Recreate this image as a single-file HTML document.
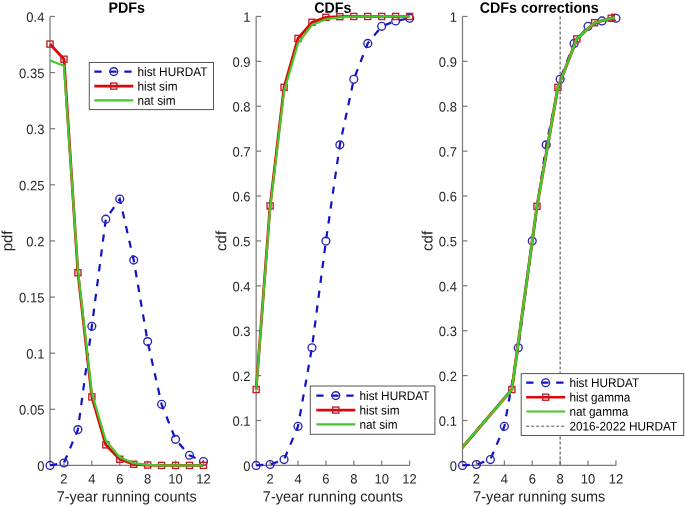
<!DOCTYPE html>
<html><head><meta charset="utf-8"><style>
html,body{margin:0;padding:0;background:#fff;}
body{width:685px;height:506px;overflow:hidden;}
svg{display:block;filter:blur(0.45px);}
text{font-family:"Liberation Sans",sans-serif;}
</style></head><body>
<svg width="685" height="506" viewBox="0 0 685 506">
<rect width="685" height="506" fill="#fff"/>
<defs><clipPath id="c3"><rect x="462.50" y="0" width="153.45" height="468.40"/></clipPath></defs>
<path d="M50.00,16.45 L50.00,465.40 L203.45,465.40" fill="none" stroke="rgb(120,120,120)" stroke-width="1.2"/>
<line x1="50.00" y1="465.40" x2="55.00" y2="465.40" stroke="rgb(120,120,120)" stroke-width="1.2"/>
<text transform="matrix(0.963,0.001,0,1,44.40,470.75)" text-anchor="end" font-size="13.5" fill="rgb(38,38,38)">0</text>
<line x1="50.00" y1="409.28" x2="55.00" y2="409.28" stroke="rgb(120,120,120)" stroke-width="1.2"/>
<text transform="matrix(0.963,0.001,0,1,44.40,414.63)" text-anchor="end" font-size="13.5" fill="rgb(38,38,38)">0.05</text>
<line x1="50.00" y1="353.16" x2="55.00" y2="353.16" stroke="rgb(120,120,120)" stroke-width="1.2"/>
<text transform="matrix(0.963,0.001,0,1,44.40,358.51)" text-anchor="end" font-size="13.5" fill="rgb(38,38,38)">0.1</text>
<line x1="50.00" y1="297.04" x2="55.00" y2="297.04" stroke="rgb(120,120,120)" stroke-width="1.2"/>
<text transform="matrix(0.963,0.001,0,1,44.40,302.39)" text-anchor="end" font-size="13.5" fill="rgb(38,38,38)">0.15</text>
<line x1="50.00" y1="240.92" x2="55.00" y2="240.92" stroke="rgb(120,120,120)" stroke-width="1.2"/>
<text transform="matrix(0.963,0.001,0,1,44.40,246.27)" text-anchor="end" font-size="13.5" fill="rgb(38,38,38)">0.2</text>
<line x1="50.00" y1="184.81" x2="55.00" y2="184.81" stroke="rgb(120,120,120)" stroke-width="1.2"/>
<text transform="matrix(0.963,0.001,0,1,44.40,190.16)" text-anchor="end" font-size="13.5" fill="rgb(38,38,38)">0.25</text>
<line x1="50.00" y1="128.69" x2="55.00" y2="128.69" stroke="rgb(120,120,120)" stroke-width="1.2"/>
<text transform="matrix(0.963,0.001,0,1,44.40,134.04)" text-anchor="end" font-size="13.5" fill="rgb(38,38,38)">0.3</text>
<line x1="50.00" y1="72.57" x2="55.00" y2="72.57" stroke="rgb(120,120,120)" stroke-width="1.2"/>
<text transform="matrix(0.963,0.001,0,1,44.40,77.92)" text-anchor="end" font-size="13.5" fill="rgb(38,38,38)">0.35</text>
<line x1="50.00" y1="16.45" x2="55.00" y2="16.45" stroke="rgb(120,120,120)" stroke-width="1.2"/>
<text transform="matrix(0.963,0.001,0,1,44.40,21.80)" text-anchor="end" font-size="13.5" fill="rgb(38,38,38)">0.4</text>
<line x1="63.95" y1="465.40" x2="63.95" y2="460.40" stroke="rgb(120,120,120)" stroke-width="1.2"/>
<text transform="matrix(0.963,0.001,0,1,63.95,483.55)" text-anchor="middle" font-size="13.5" fill="rgb(38,38,38)">2</text>
<line x1="91.85" y1="465.40" x2="91.85" y2="460.40" stroke="rgb(120,120,120)" stroke-width="1.2"/>
<text transform="matrix(0.963,0.001,0,1,91.85,483.55)" text-anchor="middle" font-size="13.5" fill="rgb(38,38,38)">4</text>
<line x1="119.75" y1="465.40" x2="119.75" y2="460.40" stroke="rgb(120,120,120)" stroke-width="1.2"/>
<text transform="matrix(0.963,0.001,0,1,119.75,483.55)" text-anchor="middle" font-size="13.5" fill="rgb(38,38,38)">6</text>
<line x1="147.65" y1="465.40" x2="147.65" y2="460.40" stroke="rgb(120,120,120)" stroke-width="1.2"/>
<text transform="matrix(0.963,0.001,0,1,147.65,483.55)" text-anchor="middle" font-size="13.5" fill="rgb(38,38,38)">8</text>
<line x1="175.55" y1="465.40" x2="175.55" y2="460.40" stroke="rgb(120,120,120)" stroke-width="1.2"/>
<text transform="matrix(0.963,0.001,0,1,175.55,483.55)" text-anchor="middle" font-size="13.5" fill="rgb(38,38,38)">10</text>
<line x1="203.45" y1="465.40" x2="203.45" y2="460.40" stroke="rgb(120,120,120)" stroke-width="1.2"/>
<text transform="matrix(0.963,0.001,0,1,203.45,483.55)" text-anchor="middle" font-size="13.5" fill="rgb(38,38,38)">12</text>
<text transform="matrix(0.9533,0.001,0,1,126.72,12.75)" text-anchor="middle" font-size="15.0" font-weight="bold" fill="#000">PDFs</text>
<text transform="translate(12.30,240.92) rotate(-89.95)" x="0" y="0" text-anchor="middle" font-size="15" fill="rgb(38,38,38)">pdf</text>
<polyline points="50.00,465.40 63.95,463.04 77.90,429.60 91.85,326.23 105.80,219.15 119.75,198.95 133.70,260.12 147.65,341.60 161.60,404.34 175.55,439.36 189.50,455.30 203.45,461.47" fill="none" stroke="rgb(20,18,198)" stroke-width="2.2" stroke-dasharray="7.3 7.7"/>
<g><circle cx="50.00" cy="465.40" r="3.9" fill="none" stroke="rgb(40,35,180)" stroke-width="1.35"/><circle cx="63.95" cy="463.04" r="3.9" fill="none" stroke="rgb(40,35,180)" stroke-width="1.35"/><circle cx="77.90" cy="429.60" r="3.9" fill="none" stroke="rgb(40,35,180)" stroke-width="1.35"/><circle cx="91.85" cy="326.23" r="3.9" fill="none" stroke="rgb(40,35,180)" stroke-width="1.35"/><circle cx="105.80" cy="219.15" r="3.9" fill="none" stroke="rgb(40,35,180)" stroke-width="1.35"/><circle cx="119.75" cy="198.95" r="3.9" fill="none" stroke="rgb(40,35,180)" stroke-width="1.35"/><circle cx="133.70" cy="260.12" r="3.9" fill="none" stroke="rgb(40,35,180)" stroke-width="1.35"/><circle cx="147.65" cy="341.60" r="3.9" fill="none" stroke="rgb(40,35,180)" stroke-width="1.35"/><circle cx="161.60" cy="404.34" r="3.9" fill="none" stroke="rgb(40,35,180)" stroke-width="1.35"/><circle cx="175.55" cy="439.36" r="3.9" fill="none" stroke="rgb(40,35,180)" stroke-width="1.35"/><circle cx="189.50" cy="455.30" r="3.9" fill="none" stroke="rgb(40,35,180)" stroke-width="1.35"/><circle cx="203.45" cy="461.47" r="3.9" fill="none" stroke="rgb(40,35,180)" stroke-width="1.35"/></g>
<polyline points="50.00,44.06 63.95,59.21 77.90,272.69 91.85,396.94 105.80,444.86 119.75,459.23 133.70,464.28 147.65,465.06 161.60,465.40 175.55,465.40 189.50,465.40 203.45,465.40" fill="none" stroke="rgb(220,8,8)" stroke-width="2.8" stroke-linejoin="round"/>
<g><rect x="46.95" y="41.01" width="6.10" height="6.10" fill="none" stroke="rgb(190,28,38)" stroke-width="1.35"/><rect x="60.90" y="56.16" width="6.10" height="6.10" fill="none" stroke="rgb(190,28,38)" stroke-width="1.35"/><rect x="74.85" y="269.64" width="6.10" height="6.10" fill="none" stroke="rgb(190,28,38)" stroke-width="1.35"/><rect x="88.80" y="393.89" width="6.10" height="6.10" fill="none" stroke="rgb(190,28,38)" stroke-width="1.35"/><rect x="102.75" y="441.81" width="6.10" height="6.10" fill="none" stroke="rgb(190,28,38)" stroke-width="1.35"/><rect x="116.70" y="456.18" width="6.10" height="6.10" fill="none" stroke="rgb(190,28,38)" stroke-width="1.35"/><rect x="130.65" y="461.23" width="6.10" height="6.10" fill="none" stroke="rgb(190,28,38)" stroke-width="1.35"/><rect x="144.60" y="462.01" width="6.10" height="6.10" fill="none" stroke="rgb(190,28,38)" stroke-width="1.35"/><rect x="158.55" y="462.35" width="6.10" height="6.10" fill="none" stroke="rgb(190,28,38)" stroke-width="1.35"/><rect x="172.50" y="462.35" width="6.10" height="6.10" fill="none" stroke="rgb(190,28,38)" stroke-width="1.35"/><rect x="186.45" y="462.35" width="6.10" height="6.10" fill="none" stroke="rgb(190,28,38)" stroke-width="1.35"/><rect x="200.40" y="462.35" width="6.10" height="6.10" fill="none" stroke="rgb(190,28,38)" stroke-width="1.35"/></g>
<polyline points="50.00,60.56 63.95,65.83 77.90,269.55 91.85,393.01 105.80,440.48 119.75,457.32 133.70,463.16 147.65,464.84 161.60,465.29 175.55,465.40 189.50,465.40 203.45,465.40" fill="none" stroke="rgb(70,200,45)" stroke-width="2.2" stroke-linejoin="round"/>
<rect x="89.30" y="62.50" width="124.20" height="47.10" fill="#fff" stroke="rgb(85,85,85)" stroke-width="1.0"/>
<line x1="94.30" y1="71.60" x2="133.30" y2="71.60" stroke="rgb(20,18,198)" stroke-width="2.2" stroke-dasharray="7.3 7.7"/>
<circle cx="113.80" cy="71.60" r="3.9" fill="none" stroke="rgb(40,35,180)" stroke-width="1.35"/>
<text transform="matrix(0.944,0.001,0,1,137.50,75.90)" font-size="12.5" fill="#000">hist HURDAT</text>
<line x1="94.30" y1="86.10" x2="133.30" y2="86.10" stroke="rgb(220,8,8)" stroke-width="2.6"/>
<rect x="110.75" y="83.05" width="6.10" height="6.10" fill="none" stroke="rgb(190,28,38)" stroke-width="1.35"/>
<text transform="matrix(0.944,0.001,0,1,137.50,90.40)" font-size="12.5" fill="#000">hist sim</text>
<line x1="94.30" y1="100.40" x2="133.30" y2="100.40" stroke="rgb(70,200,45)" stroke-width="2.2"/>
<text transform="matrix(0.944,0.001,0,1,137.50,104.70)" font-size="12.5" fill="#000">nat sim</text>
<text transform="matrix(0.9732,0.001,0,1,126.72,501.55)" text-anchor="middle" font-size="14.9" fill="rgb(38,38,38)">7-year running counts</text>
<path d="M256.15,16.45 L256.15,465.40 L409.60,465.40" fill="none" stroke="rgb(120,120,120)" stroke-width="1.2"/>
<line x1="256.15" y1="465.40" x2="261.15" y2="465.40" stroke="rgb(120,120,120)" stroke-width="1.2"/>
<text transform="matrix(0.963,0.001,0,1,250.55,470.75)" text-anchor="end" font-size="13.5" fill="rgb(38,38,38)">0</text>
<line x1="256.15" y1="420.50" x2="261.15" y2="420.50" stroke="rgb(120,120,120)" stroke-width="1.2"/>
<text transform="matrix(0.963,0.001,0,1,250.55,425.86)" text-anchor="end" font-size="13.5" fill="rgb(38,38,38)">0.1</text>
<line x1="256.15" y1="375.61" x2="261.15" y2="375.61" stroke="rgb(120,120,120)" stroke-width="1.2"/>
<text transform="matrix(0.963,0.001,0,1,250.55,380.96)" text-anchor="end" font-size="13.5" fill="rgb(38,38,38)">0.2</text>
<line x1="256.15" y1="330.71" x2="261.15" y2="330.71" stroke="rgb(120,120,120)" stroke-width="1.2"/>
<text transform="matrix(0.963,0.001,0,1,250.55,336.06)" text-anchor="end" font-size="13.5" fill="rgb(38,38,38)">0.3</text>
<line x1="256.15" y1="285.82" x2="261.15" y2="285.82" stroke="rgb(120,120,120)" stroke-width="1.2"/>
<text transform="matrix(0.963,0.001,0,1,250.55,291.17)" text-anchor="end" font-size="13.5" fill="rgb(38,38,38)">0.4</text>
<line x1="256.15" y1="240.92" x2="261.15" y2="240.92" stroke="rgb(120,120,120)" stroke-width="1.2"/>
<text transform="matrix(0.963,0.001,0,1,250.55,246.27)" text-anchor="end" font-size="13.5" fill="rgb(38,38,38)">0.5</text>
<line x1="256.15" y1="196.03" x2="261.15" y2="196.03" stroke="rgb(120,120,120)" stroke-width="1.2"/>
<text transform="matrix(0.963,0.001,0,1,250.55,201.38)" text-anchor="end" font-size="13.5" fill="rgb(38,38,38)">0.6</text>
<line x1="256.15" y1="151.13" x2="261.15" y2="151.13" stroke="rgb(120,120,120)" stroke-width="1.2"/>
<text transform="matrix(0.963,0.001,0,1,250.55,156.48)" text-anchor="end" font-size="13.5" fill="rgb(38,38,38)">0.7</text>
<line x1="256.15" y1="106.24" x2="261.15" y2="106.24" stroke="rgb(120,120,120)" stroke-width="1.2"/>
<text transform="matrix(0.963,0.001,0,1,250.55,111.59)" text-anchor="end" font-size="13.5" fill="rgb(38,38,38)">0.8</text>
<line x1="256.15" y1="61.34" x2="261.15" y2="61.34" stroke="rgb(120,120,120)" stroke-width="1.2"/>
<text transform="matrix(0.963,0.001,0,1,250.55,66.69)" text-anchor="end" font-size="13.5" fill="rgb(38,38,38)">0.9</text>
<line x1="256.15" y1="16.45" x2="261.15" y2="16.45" stroke="rgb(120,120,120)" stroke-width="1.2"/>
<text transform="matrix(0.963,0.001,0,1,250.55,21.80)" text-anchor="end" font-size="13.5" fill="rgb(38,38,38)">1</text>
<line x1="270.10" y1="465.40" x2="270.10" y2="460.40" stroke="rgb(120,120,120)" stroke-width="1.2"/>
<text transform="matrix(0.963,0.001,0,1,270.10,483.55)" text-anchor="middle" font-size="13.5" fill="rgb(38,38,38)">2</text>
<line x1="298.00" y1="465.40" x2="298.00" y2="460.40" stroke="rgb(120,120,120)" stroke-width="1.2"/>
<text transform="matrix(0.963,0.001,0,1,298.00,483.55)" text-anchor="middle" font-size="13.5" fill="rgb(38,38,38)">4</text>
<line x1="325.90" y1="465.40" x2="325.90" y2="460.40" stroke="rgb(120,120,120)" stroke-width="1.2"/>
<text transform="matrix(0.963,0.001,0,1,325.90,483.55)" text-anchor="middle" font-size="13.5" fill="rgb(38,38,38)">6</text>
<line x1="353.80" y1="465.40" x2="353.80" y2="460.40" stroke="rgb(120,120,120)" stroke-width="1.2"/>
<text transform="matrix(0.963,0.001,0,1,353.80,483.55)" text-anchor="middle" font-size="13.5" fill="rgb(38,38,38)">8</text>
<line x1="381.70" y1="465.40" x2="381.70" y2="460.40" stroke="rgb(120,120,120)" stroke-width="1.2"/>
<text transform="matrix(0.963,0.001,0,1,381.70,483.55)" text-anchor="middle" font-size="13.5" fill="rgb(38,38,38)">10</text>
<line x1="409.60" y1="465.40" x2="409.60" y2="460.40" stroke="rgb(120,120,120)" stroke-width="1.2"/>
<text transform="matrix(0.963,0.001,0,1,409.60,483.55)" text-anchor="middle" font-size="13.5" fill="rgb(38,38,38)">12</text>
<text transform="matrix(0.9533,0.001,0,1,332.88,12.75)" text-anchor="middle" font-size="15.0" font-weight="bold" fill="#000">CDFs</text>
<text transform="translate(226.20,240.92) rotate(-89.95)" x="0" y="0" text-anchor="middle" font-size="15" fill="rgb(38,38,38)">cdf</text>
<polyline points="256.15,465.40 270.10,464.50 284.05,459.56 298.00,426.34 311.95,347.78 325.90,241.10 339.85,144.85 353.80,79.30 367.75,43.39 381.70,26.33 395.65,20.94 409.60,18.25" fill="none" stroke="rgb(20,18,198)" stroke-width="2.2" stroke-dasharray="7.3 7.7"/>
<g><circle cx="256.15" cy="465.40" r="3.9" fill="none" stroke="rgb(40,35,180)" stroke-width="1.35"/><circle cx="270.10" cy="464.50" r="3.9" fill="none" stroke="rgb(40,35,180)" stroke-width="1.35"/><circle cx="284.05" cy="459.56" r="3.9" fill="none" stroke="rgb(40,35,180)" stroke-width="1.35"/><circle cx="298.00" cy="426.34" r="3.9" fill="none" stroke="rgb(40,35,180)" stroke-width="1.35"/><circle cx="311.95" cy="347.78" r="3.9" fill="none" stroke="rgb(40,35,180)" stroke-width="1.35"/><circle cx="325.90" cy="241.10" r="3.9" fill="none" stroke="rgb(40,35,180)" stroke-width="1.35"/><circle cx="339.85" cy="144.85" r="3.9" fill="none" stroke="rgb(40,35,180)" stroke-width="1.35"/><circle cx="353.80" cy="79.30" r="3.9" fill="none" stroke="rgb(40,35,180)" stroke-width="1.35"/><circle cx="367.75" cy="43.39" r="3.9" fill="none" stroke="rgb(40,35,180)" stroke-width="1.35"/><circle cx="381.70" cy="26.33" r="3.9" fill="none" stroke="rgb(40,35,180)" stroke-width="1.35"/><circle cx="395.65" cy="20.94" r="3.9" fill="none" stroke="rgb(40,35,180)" stroke-width="1.35"/><circle cx="409.60" cy="18.25" r="3.9" fill="none" stroke="rgb(40,35,180)" stroke-width="1.35"/></g>
<polyline points="256.15,389.53 270.10,205.91 284.05,87.38 298.00,38.45 311.95,22.29 325.90,17.35 339.85,16.67 353.80,16.45 367.75,16.45 381.70,16.45 395.65,16.45 409.60,16.45" fill="none" stroke="rgb(220,8,8)" stroke-width="2.8" stroke-linejoin="round"/>
<g><rect x="253.10" y="386.48" width="6.10" height="6.10" fill="none" stroke="rgb(190,28,38)" stroke-width="1.35"/><rect x="267.05" y="202.86" width="6.10" height="6.10" fill="none" stroke="rgb(190,28,38)" stroke-width="1.35"/><rect x="281.00" y="84.33" width="6.10" height="6.10" fill="none" stroke="rgb(190,28,38)" stroke-width="1.35"/><rect x="294.95" y="35.40" width="6.10" height="6.10" fill="none" stroke="rgb(190,28,38)" stroke-width="1.35"/><rect x="308.90" y="19.24" width="6.10" height="6.10" fill="none" stroke="rgb(190,28,38)" stroke-width="1.35"/><rect x="322.85" y="14.30" width="6.10" height="6.10" fill="none" stroke="rgb(190,28,38)" stroke-width="1.35"/><rect x="336.80" y="13.62" width="6.10" height="6.10" fill="none" stroke="rgb(190,28,38)" stroke-width="1.35"/><rect x="350.75" y="13.40" width="6.10" height="6.10" fill="none" stroke="rgb(190,28,38)" stroke-width="1.35"/><rect x="364.70" y="13.40" width="6.10" height="6.10" fill="none" stroke="rgb(190,28,38)" stroke-width="1.35"/><rect x="378.65" y="13.40" width="6.10" height="6.10" fill="none" stroke="rgb(190,28,38)" stroke-width="1.35"/><rect x="392.60" y="13.40" width="6.10" height="6.10" fill="none" stroke="rgb(190,28,38)" stroke-width="1.35"/><rect x="406.55" y="13.40" width="6.10" height="6.10" fill="none" stroke="rgb(190,28,38)" stroke-width="1.35"/></g>
<polyline points="256.15,389.98 270.10,208.60 284.05,91.42 298.00,43.39 311.95,24.98 325.90,19.14 339.85,17.35 353.80,16.67 367.75,16.45 381.70,16.45 395.65,16.45 409.60,16.45" fill="none" stroke="rgb(70,200,45)" stroke-width="2.2" stroke-linejoin="round"/>
<rect x="310.30" y="386.00" width="124.60" height="48.30" fill="#fff" stroke="rgb(85,85,85)" stroke-width="1.0"/>
<line x1="316.30" y1="395.60" x2="355.30" y2="395.60" stroke="rgb(20,18,198)" stroke-width="2.2" stroke-dasharray="7.3 7.7"/>
<circle cx="335.80" cy="395.60" r="3.9" fill="none" stroke="rgb(40,35,180)" stroke-width="1.35"/>
<text transform="matrix(0.944,0.001,0,1,359.50,399.90)" font-size="12.5" fill="#000">hist HURDAT</text>
<line x1="316.30" y1="410.10" x2="355.30" y2="410.10" stroke="rgb(220,8,8)" stroke-width="2.6"/>
<rect x="332.75" y="407.05" width="6.10" height="6.10" fill="none" stroke="rgb(190,28,38)" stroke-width="1.35"/>
<text transform="matrix(0.944,0.001,0,1,359.50,414.40)" font-size="12.5" fill="#000">hist sim</text>
<line x1="316.30" y1="424.40" x2="355.30" y2="424.40" stroke="rgb(70,200,45)" stroke-width="2.2"/>
<text transform="matrix(0.944,0.001,0,1,359.50,428.70)" font-size="12.5" fill="#000">nat sim</text>
<text transform="matrix(0.9732,0.001,0,1,332.88,501.55)" text-anchor="middle" font-size="14.9" fill="rgb(38,38,38)">7-year running counts</text>
<path d="M462.50,16.45 L462.50,465.40 L615.95,465.40" fill="none" stroke="rgb(120,120,120)" stroke-width="1.2"/>
<line x1="462.50" y1="465.40" x2="467.50" y2="465.40" stroke="rgb(120,120,120)" stroke-width="1.2"/>
<text transform="matrix(0.963,0.001,0,1,456.90,470.75)" text-anchor="end" font-size="13.5" fill="rgb(38,38,38)">0</text>
<line x1="462.50" y1="420.50" x2="467.50" y2="420.50" stroke="rgb(120,120,120)" stroke-width="1.2"/>
<text transform="matrix(0.963,0.001,0,1,456.90,425.86)" text-anchor="end" font-size="13.5" fill="rgb(38,38,38)">0.1</text>
<line x1="462.50" y1="375.61" x2="467.50" y2="375.61" stroke="rgb(120,120,120)" stroke-width="1.2"/>
<text transform="matrix(0.963,0.001,0,1,456.90,380.96)" text-anchor="end" font-size="13.5" fill="rgb(38,38,38)">0.2</text>
<line x1="462.50" y1="330.71" x2="467.50" y2="330.71" stroke="rgb(120,120,120)" stroke-width="1.2"/>
<text transform="matrix(0.963,0.001,0,1,456.90,336.06)" text-anchor="end" font-size="13.5" fill="rgb(38,38,38)">0.3</text>
<line x1="462.50" y1="285.82" x2="467.50" y2="285.82" stroke="rgb(120,120,120)" stroke-width="1.2"/>
<text transform="matrix(0.963,0.001,0,1,456.90,291.17)" text-anchor="end" font-size="13.5" fill="rgb(38,38,38)">0.4</text>
<line x1="462.50" y1="240.92" x2="467.50" y2="240.92" stroke="rgb(120,120,120)" stroke-width="1.2"/>
<text transform="matrix(0.963,0.001,0,1,456.90,246.27)" text-anchor="end" font-size="13.5" fill="rgb(38,38,38)">0.5</text>
<line x1="462.50" y1="196.03" x2="467.50" y2="196.03" stroke="rgb(120,120,120)" stroke-width="1.2"/>
<text transform="matrix(0.963,0.001,0,1,456.90,201.38)" text-anchor="end" font-size="13.5" fill="rgb(38,38,38)">0.6</text>
<line x1="462.50" y1="151.13" x2="467.50" y2="151.13" stroke="rgb(120,120,120)" stroke-width="1.2"/>
<text transform="matrix(0.963,0.001,0,1,456.90,156.48)" text-anchor="end" font-size="13.5" fill="rgb(38,38,38)">0.7</text>
<line x1="462.50" y1="106.24" x2="467.50" y2="106.24" stroke="rgb(120,120,120)" stroke-width="1.2"/>
<text transform="matrix(0.963,0.001,0,1,456.90,111.59)" text-anchor="end" font-size="13.5" fill="rgb(38,38,38)">0.8</text>
<line x1="462.50" y1="61.34" x2="467.50" y2="61.34" stroke="rgb(120,120,120)" stroke-width="1.2"/>
<text transform="matrix(0.963,0.001,0,1,456.90,66.69)" text-anchor="end" font-size="13.5" fill="rgb(38,38,38)">0.9</text>
<line x1="462.50" y1="16.45" x2="467.50" y2="16.45" stroke="rgb(120,120,120)" stroke-width="1.2"/>
<text transform="matrix(0.963,0.001,0,1,456.90,21.80)" text-anchor="end" font-size="13.5" fill="rgb(38,38,38)">1</text>
<line x1="476.45" y1="465.40" x2="476.45" y2="460.40" stroke="rgb(120,120,120)" stroke-width="1.2"/>
<text transform="matrix(0.963,0.001,0,1,476.45,483.55)" text-anchor="middle" font-size="13.5" fill="rgb(38,38,38)">2</text>
<line x1="504.35" y1="465.40" x2="504.35" y2="460.40" stroke="rgb(120,120,120)" stroke-width="1.2"/>
<text transform="matrix(0.963,0.001,0,1,504.35,483.55)" text-anchor="middle" font-size="13.5" fill="rgb(38,38,38)">4</text>
<line x1="532.25" y1="465.40" x2="532.25" y2="460.40" stroke="rgb(120,120,120)" stroke-width="1.2"/>
<text transform="matrix(0.963,0.001,0,1,532.25,483.55)" text-anchor="middle" font-size="13.5" fill="rgb(38,38,38)">6</text>
<line x1="560.15" y1="465.40" x2="560.15" y2="460.40" stroke="rgb(120,120,120)" stroke-width="1.2"/>
<text transform="matrix(0.963,0.001,0,1,560.15,483.55)" text-anchor="middle" font-size="13.5" fill="rgb(38,38,38)">8</text>
<line x1="588.05" y1="465.40" x2="588.05" y2="460.40" stroke="rgb(120,120,120)" stroke-width="1.2"/>
<text transform="matrix(0.963,0.001,0,1,588.05,483.55)" text-anchor="middle" font-size="13.5" fill="rgb(38,38,38)">10</text>
<line x1="615.95" y1="465.40" x2="615.95" y2="460.40" stroke="rgb(120,120,120)" stroke-width="1.2"/>
<text transform="matrix(0.963,0.001,0,1,615.95,483.55)" text-anchor="middle" font-size="13.5" fill="rgb(38,38,38)">12</text>
<text transform="matrix(0.9533,0.001,0,1,539.23,12.75)" text-anchor="middle" font-size="15.0" font-weight="bold" fill="#000">CDFs corrections</text>
<text transform="translate(432.50,240.92) rotate(-89.95)" x="0" y="0" text-anchor="middle" font-size="15" fill="rgb(38,38,38)">cdf</text>
<polyline points="462.50,465.40 476.45,464.50 490.40,459.56 504.35,426.34 518.30,347.78 532.25,241.10 546.20,144.85 560.15,79.30 574.10,43.39 588.05,26.33 602.00,20.94 615.95,18.25" fill="none" stroke="rgb(20,18,198)" stroke-width="2.2" stroke-dasharray="7.3 7.7"/>
<g><circle cx="462.50" cy="465.40" r="3.9" fill="none" stroke="rgb(40,35,180)" stroke-width="1.35"/><circle cx="476.45" cy="464.50" r="3.9" fill="none" stroke="rgb(40,35,180)" stroke-width="1.35"/><circle cx="490.40" cy="459.56" r="3.9" fill="none" stroke="rgb(40,35,180)" stroke-width="1.35"/><circle cx="504.35" cy="426.34" r="3.9" fill="none" stroke="rgb(40,35,180)" stroke-width="1.35"/><circle cx="518.30" cy="347.78" r="3.9" fill="none" stroke="rgb(40,35,180)" stroke-width="1.35"/><circle cx="532.25" cy="241.10" r="3.9" fill="none" stroke="rgb(40,35,180)" stroke-width="1.35"/><circle cx="546.20" cy="144.85" r="3.9" fill="none" stroke="rgb(40,35,180)" stroke-width="1.35"/><circle cx="560.15" cy="79.30" r="3.9" fill="none" stroke="rgb(40,35,180)" stroke-width="1.35"/><circle cx="574.10" cy="43.39" r="3.9" fill="none" stroke="rgb(40,35,180)" stroke-width="1.35"/><circle cx="588.05" cy="26.33" r="3.9" fill="none" stroke="rgb(40,35,180)" stroke-width="1.35"/><circle cx="602.00" cy="20.94" r="3.9" fill="none" stroke="rgb(40,35,180)" stroke-width="1.35"/><circle cx="615.95" cy="18.25" r="3.9" fill="none" stroke="rgb(40,35,180)" stroke-width="1.35"/></g>
<polyline points="448.55,463.60 511.88,389.53 536.99,206.36 557.92,87.38 576.89,38.90 594.61,22.74 611.21,18.25 614.83,17.35" fill="none" stroke="rgb(220,8,8)" stroke-width="3.0" stroke-linejoin="round" clip-path="url(#c3)"/>
<g clip-path="url(#c3)"><rect x="445.50" y="460.55" width="6.10" height="6.10" fill="none" stroke="rgb(190,28,38)" stroke-width="1.35"/><rect x="508.83" y="386.48" width="6.10" height="6.10" fill="none" stroke="rgb(190,28,38)" stroke-width="1.35"/><rect x="533.94" y="203.31" width="6.10" height="6.10" fill="none" stroke="rgb(190,28,38)" stroke-width="1.35"/><rect x="554.87" y="84.33" width="6.10" height="6.10" fill="none" stroke="rgb(190,28,38)" stroke-width="1.35"/><rect x="573.84" y="35.85" width="6.10" height="6.10" fill="none" stroke="rgb(190,28,38)" stroke-width="1.35"/><rect x="591.56" y="19.69" width="6.10" height="6.10" fill="none" stroke="rgb(190,28,38)" stroke-width="1.35"/><rect x="608.16" y="15.20" width="6.10" height="6.10" fill="none" stroke="rgb(190,28,38)" stroke-width="1.35"/><rect x="611.78" y="14.30" width="6.10" height="6.10" fill="none" stroke="rgb(190,28,38)" stroke-width="1.35"/></g>
<polyline points="448.55,463.60 511.88,389.53 536.99,206.36 557.92,87.38 576.89,38.90 594.61,22.74 611.21,18.25 614.83,17.35" fill="none" stroke="rgb(70,200,45)" stroke-width="2.6" stroke-linejoin="round" clip-path="url(#c3)"/>
<line x1="560.15" y1="16.45" x2="560.15" y2="465.40" stroke="rgb(95,95,95)" stroke-width="1.2" stroke-dasharray="3 2"/>
<rect x="521.20" y="373.60" width="162.50" height="61.90" fill="#fff" stroke="rgb(85,85,85)" stroke-width="1.0"/>
<line x1="526.20" y1="382.70" x2="565.20" y2="382.70" stroke="rgb(20,18,198)" stroke-width="2.2" stroke-dasharray="7.3 7.7"/>
<circle cx="545.70" cy="382.70" r="3.9" fill="none" stroke="rgb(40,35,180)" stroke-width="1.35"/>
<text transform="matrix(0.944,0.001,0,1,569.40,387.00)" font-size="12.5" fill="#000">hist HURDAT</text>
<line x1="526.20" y1="397.20" x2="565.20" y2="397.20" stroke="rgb(220,8,8)" stroke-width="2.6"/>
<rect x="542.65" y="394.15" width="6.10" height="6.10" fill="none" stroke="rgb(190,28,38)" stroke-width="1.35"/>
<text transform="matrix(0.944,0.001,0,1,569.40,401.50)" font-size="12.5" fill="#000">hist gamma</text>
<line x1="526.20" y1="411.50" x2="565.20" y2="411.50" stroke="rgb(70,200,45)" stroke-width="2.2"/>
<text transform="matrix(0.944,0.001,0,1,569.40,415.80)" font-size="12.5" fill="#000">nat gamma</text>
<line x1="526.20" y1="426.20" x2="565.20" y2="426.20" stroke="rgb(75,75,75)" stroke-width="0.95" stroke-dasharray="3 2"/>
<text transform="matrix(0.944,0.001,0,1,569.40,430.50)" font-size="12.5" fill="#000">2016-2022 HURDAT</text>
<text transform="matrix(0.9732,0.001,0,1,539.23,501.55)" text-anchor="middle" font-size="14.9" fill="rgb(38,38,38)">7-year running sums</text>
</svg>
</body></html>
